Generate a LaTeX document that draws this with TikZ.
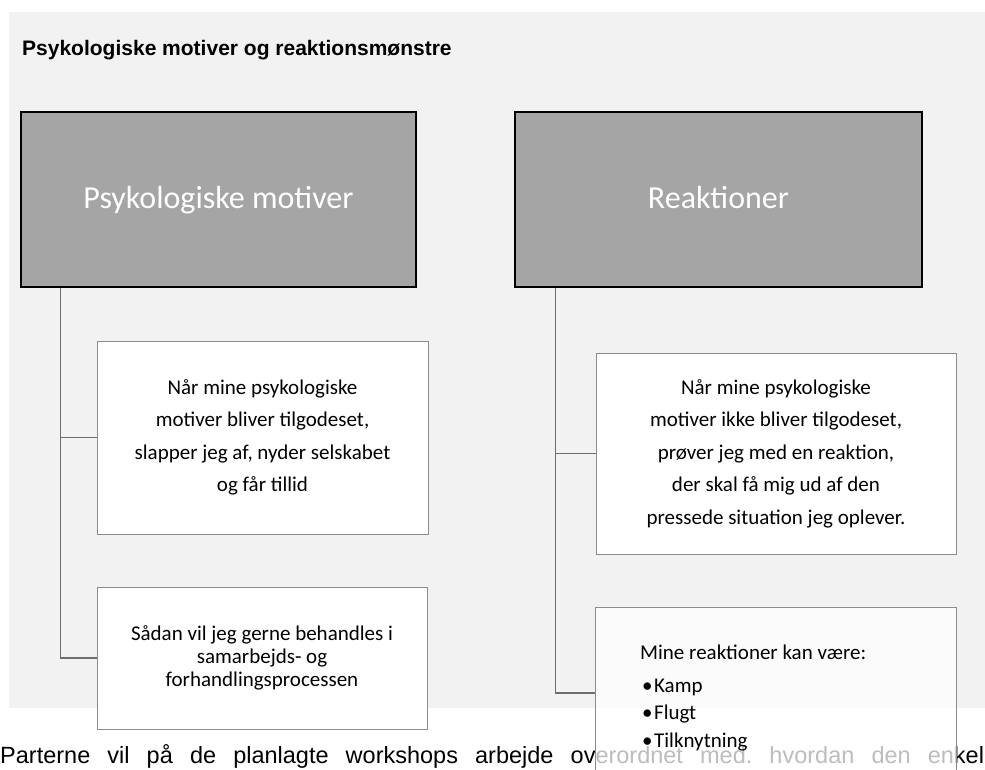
\documentclass[tikz,border=0pt]{standalone}
\usepackage{fontspec}
\setmainfont{Carlito}
\newfontfamily\arialfont{Liberation Sans}
\definecolor{panelgray}{HTML}{F2F2F2}
\definecolor{headgray}{HTML}{A5A5A5}
\definecolor{boxline}{HTML}{8C8C8C}
\definecolor{linkgray}{HTML}{6E6E6E}
\frenchspacing
\begin{document}
\begin{tikzpicture}[x=1pt,y=-1pt,
  panel/.style={fill=panelgray,draw=none},
  headbox/.style={draw=black,line width=1.3pt,fill=headgray,inner sep=0pt},
  headtext/.style={text=white,inner sep=0pt,anchor=base,font=\fontsize{32}{38}\selectfont},
  itembox/.style={draw=boxline,line width=0.9pt,fill=white,inner sep=0pt,align=center},
  wide/.style={font=\fontsize{21}{32.5}\selectfont},
  tight/.style={font=\fontsize{21}{22.8}\selectfont},
  itemtext/.style={inner sep=0pt,anchor=base west,font=\fontsize{21}{25}\selectfont},
  link/.style={draw=linkgray,line width=1.4pt},
  bodytext/.style={inner sep=0pt,anchor=base west,font=\arialfont\fontsize{23.5}{28}\selectfont}
]
\useasboundingbox (0,0) rectangle (985,769);
\clip (0,0) rectangle (985,769);

% background panel and heading
\fill[panel] (9,12) rectangle (985,708);
\node[inner sep=0pt,anchor=base west,font=\arialfont\bfseries\fontsize{21}{25}\selectfont] (title) at (22,55) {Psykologiske motiver og reaktionsmønstre};

% running text below the panel
\node[bodytext] (body) at (0,763) {\makebox[984pt][s]{Parterne vil på de planlagte workshops arbejde overordnet med. hvordan den enkel}};

% column heads
\node[headbox,minimum width=395pt,minimum height=175pt] (motives) at (218.5,199.5) {};
\node[headtext] (motiveslabel) at (218.5,208) {Psykologiske motiver};
\node[headbox,minimum width=407pt,minimum height=175pt] (reactions) at (718.5,199.5) {};
\node[headtext] (reactionslabel) at (718.5,208) {Reaktioner};

% left column
\node[itembox,wide,minimum width=331pt,minimum height=193pt] (mot1) at (262.5,437.5)
  {Når mine psykologiske\\motiver bliver tilgodeset,\\slapper jeg af, nyder selskabet\\og får tillid};
\node[itembox,tight,minimum width=330pt,minimum height=142pt] (mot2) at (262,658)
  {Sådan vil jeg gerne behandles i\\samarbejds- og\\forhandlingsprocessen};

% right column
\node[itembox,wide,minimum width=360pt,minimum height=201pt] (reac1) at (776,453.5)
  {Når mine psykologiske\\motiver ikke bliver tilgodeset,\\prøver jeg med en reaktion,\\der skal få mig ud af den\\pressede situation jeg oplever.};
\node[itembox,fill opacity=0.74,text opacity=1,minimum width=361pt,minimum height=172pt] (reac2) at (775.5,693) {};
\node[itemtext] (reachead) at (640,659) {Mine reaktioner kan være:};
\node[itemtext] (reacitemA) at (642,692) {•\hspace{1.5pt}Kamp};
\node[itemtext] (reacitemB) at (642,719.5) {•\hspace{1.5pt}Flugt};
\node[itemtext] (reacitemC) at (642,747) {•\hspace{1.5pt}Tilknytning};

% connectors
\draw[link] ([xshift=40pt]motives.south west) |- (mot1.west);
\draw[link] ([xshift=40pt]motives.south west) |- (mot2.west);
\draw[link] ([xshift=41pt]reactions.south west) |- (reac1.west);
\draw[link] ([xshift=41pt]reactions.south west) |- (reac2.west);
\end{tikzpicture}
\end{document}
